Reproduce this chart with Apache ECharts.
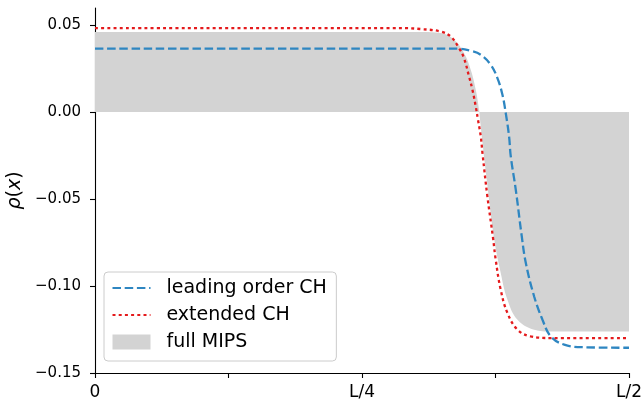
<!DOCTYPE html>
<html>
<head>
<meta charset="utf-8">
<script src="https://cdn.jsdelivr.net/npm/echarts@6/dist/echarts.min.js"></script>
<style>
html,body{margin:0;padding:0;background:#fff;}
#c{width:644px;height:403px;}
</style>
</head>
<body>
<div id="c"></div>
<script>
// x in units of L (0 .. L/2)
const xTickValues = [0, 0.125, 0.25, 0.375, 0.5];
const xLabelValues = [0, 0.25, 0.5];
const xLabelTexts = {"0": "0", "0.25": "L/4", "0.5": "L/2"};
const yTickValues = [-0.15, -0.10, -0.05, 0.00, 0.05];

const seriesNames = ["leading order CH", "extended CH", "full MIPS"];

const xLeading = [0, 0.3393, 0.3518, 0.3612, 0.3705, 0.3768, 0.3815, 0.3846, 0.3877, 0.3893, 0.394, 0.3996, 0.4034, 0.4112, 0.419, 0.4268, 0.4393, 0.4581, 0.5];
const yLeading = [0.0364, 0.0364, 0.0352, 0.0329, 0.0272, 0.0195, 0.0099, -0.0006, -0.0140, -0.0255, -0.0447, -0.0715, -0.0868, -0.1060, -0.1194, -0.1290, -0.1337, -0.1352, -0.1355];

const xExtended = [0, 0.29, 0.305, 0.3236, 0.333, 0.3408, 0.3455, 0.3502, 0.3534, 0.3565, 0.3586, 0.3612, 0.3628, 0.3674, 0.3727, 0.3752, 0.3799, 0.3862, 0.3956, 0.4081, 0.4268, 0.5];
const yExtended = [0.0482, 0.0482, 0.0477, 0.0463, 0.0434, 0.0368, 0.0310, 0.0205, 0.0128, 0.0032, -0.0044, -0.0140, -0.0236, -0.0485, -0.0724, -0.0849, -0.1022, -0.1155, -0.1251, -0.1290, -0.1299, -0.1299];

const xMips = [0, 0.305, 0.3236, 0.3361, 0.3455, 0.3518, 0.3565, 0.3596, 0.3605, 0.3668, 0.3736, 0.3799, 0.3862, 0.3956, 0.4112, 0.4268, 0.5];
const yMips = [0.046, 0.046, 0.0454, 0.0416, 0.0339, 0.0243, 0.0128, 0.0013, -0.0044, -0.0389, -0.0724, -0.0925, -0.1079, -0.1194, -0.1251, -0.1261, -0.1261];

function pairs(xs, ys) { return xs.map((x, i) => [x, ys[i]]); }

const FONT = "DejaVu Sans";
const chart = echarts.init(document.getElementById('c'), null, {renderer: 'canvas'});
chart.setOption({
  animation: false,
  backgroundColor: '#fff',
  textStyle: {fontFamily: FONT, color: '#000'},
  grid: {left: 95, right: 15, top: 8, bottom: 30, containLabel: false, outerBoundsMode: 'none'},
  legend: {
    orient: 'vertical',
    left: 104, top: 272,
    padding: [6.5, 9.5, 9.5, 7.5],
    itemWidth: 38, itemHeight: 15, itemGap: 8,
    backgroundColor: 'rgba(255,255,255,0.8)',
    borderColor: '#cccccc', borderWidth: 1, borderRadius: 4,
    textStyle: {fontFamily: FONT, fontSize: 19, color: '#000', padding: [0, 0, 0, 11]},
    data: [
      {name: seriesNames[0], itemStyle: {opacity: 0}},
      {name: seriesNames[1], itemStyle: {opacity: 0}},
      {name: seriesNames[2], icon: 'rect', itemStyle: {color: '#d3d3d3', opacity: 1}}
    ]
  },
  xAxis: {
    type: 'value', min: 0, max: 0.5,
    axisLine: {show: true, onZero: false, lineStyle: {color: '#000', width: 1.1}},
    axisTick: {show: true, length: 5, lineStyle: {color: '#000', width: 1.1}, customValues: xTickValues},
    axisLabel: {fontFamily: FONT, fontSize: 17, color: '#000', margin: 11, customValues: xLabelValues,
      formatter: v => xLabelTexts[String(v)] ?? ''},
    splitLine: {show: false}
  },
  yAxis: {
    type: 'value', min: -0.15, max: 0.0598,
    name: '{i|ρ}({i|x})',
    nameLocation: 'middle', nameRotate: 90, nameGap: 61,
    nameTextStyle: {fontFamily: FONT, fontSize: 19, color: '#000',
      rich: {i: {fontFamily: FONT, fontSize: 19, fontStyle: 'italic', color: '#000'}}},
    axisLine: {show: true, onZero: false, lineStyle: {color: '#000', width: 1.1}},
    axisTick: {show: true, length: 5, lineStyle: {color: '#000', width: 1.1}, customValues: yTickValues},
    axisLabel: {fontFamily: FONT, fontSize: 15, color: '#000', margin: 14, customValues: yTickValues,
      formatter: v => (v < -1e-9 ? '\u2212' : '') + Math.abs(v).toFixed(2)},
    splitLine: {show: false}
  },
  series: [
    {
      name: seriesNames[2], type: 'line', data: pairs(xMips, yMips), z: 1,
      showSymbol: false, symbol: 'none', smooth: 0.4,
      lineStyle: {width: 0, color: '#d3d3d3'},
      itemStyle: {color: '#d3d3d3'},
      areaStyle: {color: '#d3d3d3', opacity: 1, origin: 0}
    },
    {
      name: seriesNames[0], type: 'line', data: pairs(xLeading, yLeading), z: 2,
      showSymbol: false, symbol: 'none', smooth: 0.4,
      itemStyle: {color: '#2e86c1'},
      lineStyle: {color: '#2e86c1', width: 2.3, type: [8.5, 3.7]}
    },
    {
      name: seriesNames[1], type: 'line', data: pairs(xExtended, yExtended), z: 3,
      showSymbol: false, symbol: 'none', smooth: 0.4,
      itemStyle: {color: '#e41a1c'},
      lineStyle: {color: '#e41a1c', width: 2.3, type: [3, 3.2]}
    }
  ]
});
</script>
</body>
</html>
